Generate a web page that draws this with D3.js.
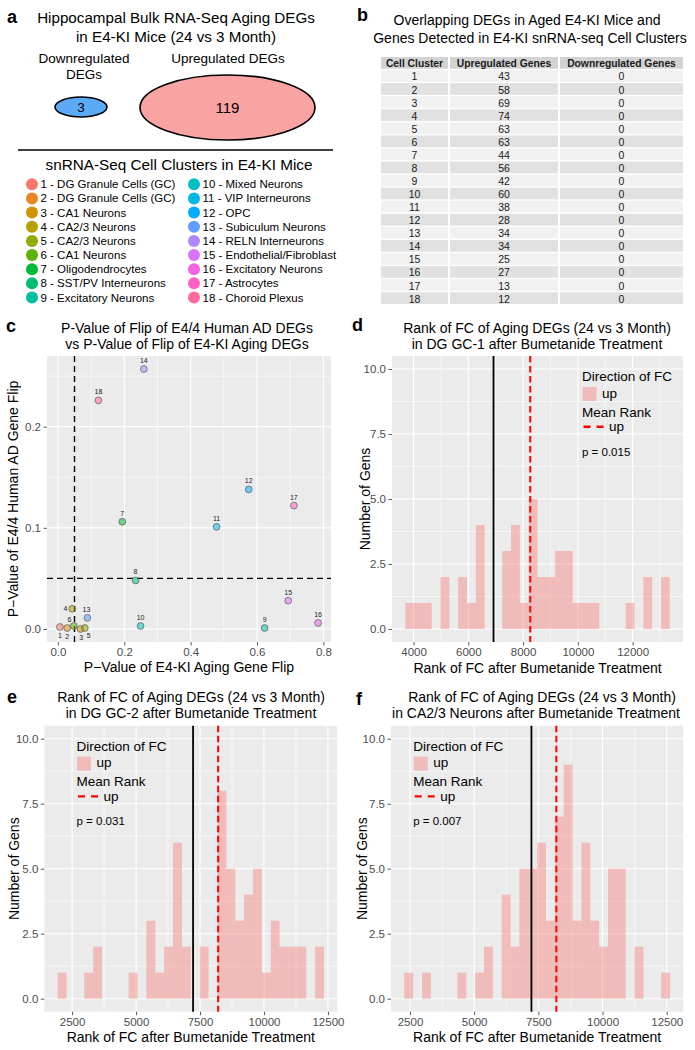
<!DOCTYPE html>
<html><head><meta charset="utf-8">
<script src="https://cdn.jsdelivr.net/npm/d3@7"></script>
<style>
body{margin:0;background:#fff}
svg{display:block}
text{font-family:"Liberation Sans",Arial,Helvetica,sans-serif}
</style>
</head><body>
<svg id="fig" width="695" height="1050"></svg>
<script>
// ---------------- DATA ----------------
const bulkCategories = ["Downregulated DEGs", "Upregulated DEGs"];
const bulkCounts = [3, 119];

const clusterIds = [1,2,3,4,5,6,7,8,9,10,11,12,13,14,15,16,17,18];
const clusterNames = ["DG Granule Cells (GC)","DG Granule Cells (GC)","CA1 Neurons","CA2/3 Neurons","CA2/3 Neurons","CA1 Neurons","Oligodendrocytes","SST/PV Interneurons","Excitatory Neurons","Mixed Neurons","VIP Interneurons","OPC","Subiculum Neurons","RELN Interneurons","Endothelial/Fibroblast","Excitatory Neurons","Astrocytes","Choroid Plexus"];

const tableHeaders = ["Cell Cluster", "Upregulated Genes", "Downregulated Genes"];
const upGenes   = [43,58,69,74,63,63,44,56,42,60,38,28,34,34,25,27,13,12];
const downGenes = [0,0,0,0,0,0,0,0,0,0,0,0,0,0,0,0,0,0];

// panel c: p-value of flip (x: E4-KI aging, y: E4/4 human AD), cluster order 1..18
const flipAging   = [0.006,0.028,0.068,0.043,0.081,0.048,0.194,0.234,0.623,0.249,0.478,0.575,0.089,0.259,0.694,0.784,0.711,0.122];
const flipHumanAD = [0.002,0.001,0.000,0.020,0.001,0.003,0.106,0.048,0.001,0.003,0.101,0.138,0.011,0.257,0.028,0.006,0.122,0.226];
const flipThreshold = 0.05;
const cXTicks = [0, 0.2, 0.4, 0.6, 0.8];
const cYTicks = [0, 0.1, 0.2];

// histograms: 30 bins each
const histYTicks = [0, 2.5, 5, 7.5, 10];
const histYMax = 10;

const binStartD = 3696, binWidthD = 322;
const countsD = [1,1,1,0,2,0,2,1,4,0,0,3,4,1,5,2,2,3,3,1,1,1,0,0,0,1,0,2,0,2];
const refRankD = 6920, meanRankD = 8262, pValueD = "p = 0.015";
const xTicksD = [4000, 6000, 8000, 10000, 12000];

const binStartE = 1935, binWidthE = 347;
const countsE = [1,0,0,1,2,0,0,0,1,0,3,1,2,6,2,0,2,0,8,5,3,4,5,1,3,2,2,2,0,2];
const refRankE = 7229, meanRankE = 8210, pValueE = "p = 0.031";
const xTicksE = [2500, 5000, 7500, 10000, 12500];

const binStartF = 2278, binWidthF = 345;
const countsF = [1,0,1,0,0,0,1,0,1,2,0,4,2,5,5,6,3,7,9,3,6,3,2,5,5,0,2,0,0,1];
const refRankF = 7230, meanRankF = 8201, pValueF = "p = 0.007";
const xTicksF = [2500, 5000, 7500, 10000, 12500];

// ---------------- HELPERS ----------------
function hclLuv(h, c, l) {
  const Xn = 95.047, Yn = 100, Zn = 108.883;
  const den = Xn + 15 * Yn + 3 * Zn;
  const un = 4 * Xn / den, vn = 9 * Yn / den;
  const r = h * Math.PI / 180, U = c * Math.cos(r), V = c * Math.sin(r);
  const Y = Yn * Math.pow((l + 16) / 116, 3);
  const u = U / (13 * l) + un, v = V / (13 * l) + vn;
  const X = 9 * Y * u / (4 * v), Z = Y * (12 - 3 * u - 20 * v) / (4 * v);
  const x = X / 100, y = Y / 100, z = Z / 100;
  const R = 3.240479 * x - 1.53715 * y - 0.498535 * z;
  const G = -0.969256 * x + 1.875992 * y + 0.041556 * z;
  const B = 0.055648 * x - 0.204043 * y + 1.057311 * z;
  const g = t => { t = t <= 0.0031308 ? 12.92 * t : 1.055 * Math.pow(t, 1 / 2.4) - 0.055; return Math.round(255 * Math.max(0, Math.min(1, t))); };
  return d3.rgb(g(R), g(G), g(B)).formatHex();
}
const clusterColor = d3.scaleOrdinal().domain(clusterIds)
  .range(clusterIds.map((d, i) => hclLuv(15 + 360 * i / clusterIds.length, 100, 65)));
const pink = hclLuv(15, 100, 65);

const svg = d3.select("#fig");
const BG = "#EBEBEB";

function txt(g, x, y, s, size, opts = {}) {
  return g.append("text").attr("x", x).attr("y", y).text(s)
    .attr("font-size", size)
    .attr("text-anchor", opts.anchor || "start")
    .attr("font-weight", opts.weight || "normal")
    .attr("fill", opts.fill || "#000");
}

function minorOf(major, domain) {
  const step = major[1] - major[0];
  const ext = [major[0] - step].concat(major, [major[major.length - 1] + step]);
  const out = [];
  for (let i = 0; i < ext.length - 1; i++) {
    const m = (ext[i] + ext[i + 1]) / 2;
    if (m >= domain[0] && m <= domain[1]) out.push(m);
  }
  return out;
}

function drawPanel(box, x, y, xt, yt, fx, fy) {
  const g = svg.append("g");
  g.append("rect").attr("x", box.x0).attr("y", box.y0)
    .attr("width", box.x1 - box.x0).attr("height", box.y1 - box.y0).attr("fill", BG);
  const xd = x.domain(), yd = y.domain();
  minorOf(xt, xd).forEach(v => g.append("line").attr("x1", x(v)).attr("x2", x(v)).attr("y1", box.y0).attr("y2", box.y1).attr("stroke", "#fff").attr("stroke-width", 0.55));
  minorOf(yt, yd).forEach(v => g.append("line").attr("y1", y(v)).attr("y2", y(v)).attr("x1", box.x0).attr("x2", box.x1).attr("stroke", "#fff").attr("stroke-width", 0.55));
  xt.forEach(v => g.append("line").attr("x1", x(v)).attr("x2", x(v)).attr("y1", box.y0).attr("y2", box.y1).attr("stroke", "#fff").attr("stroke-width", 1.1));
  yt.forEach(v => g.append("line").attr("y1", y(v)).attr("y2", y(v)).attr("x1", box.x0).attr("x2", box.x1).attr("stroke", "#fff").attr("stroke-width", 1.1));

  const ax = svg.append("g").attr("transform", `translate(0,${box.y1})`)
    .call(d3.axisBottom(x).tickValues(xt).tickSize(3.5).tickPadding(2.5).tickFormat(fx));
  const ay = svg.append("g").attr("transform", `translate(${box.x0},0)`)
    .call(d3.axisLeft(y).tickValues(yt).tickSize(3.5).tickPadding(2.5).tickFormat(fy));
  [ax, ay].forEach(a => {
    a.select(".domain").remove();
    a.selectAll(".tick line").attr("stroke", "#333").attr("stroke-width", 0.8);
    a.selectAll(".tick text").attr("fill", "#4D4D4D").attr("font-size", 11.5)
      .attr("font-family", '"Liberation Sans",Arial,Helvetica,sans-serif');
  });
  return g;
}

function yTitle(x, yc, s) {
  svg.append("text").attr("transform", `translate(${x},${yc}) rotate(-90)`)
    .attr("text-anchor", "middle").attr("dominant-baseline", "central")
    .attr("font-size", 14).text(s);
}

// ---------------- PANEL A ----------------
txt(svg, 7, 23, "a", 18, { weight: "bold" });
txt(svg, 176, 23, "Hippocampal Bulk RNA-Seq Aging DEGs", 15.2, { anchor: "middle" });
txt(svg, 176, 42, "in E4-KI Mice (24 vs 3 Month)", 15.2, { anchor: "middle" });
txt(svg, 84, 63, "Downregulated", 13.5, { anchor: "middle" });
txt(svg, 84, 79, "DEGs", 13.5, { anchor: "middle" });
txt(svg, 228, 63, bulkCategories[1], 13.5, { anchor: "middle" });

const ell = [
  { cx: 81, cy: 107, rx: 26, ry: 10, fill: "#5BAAF5" },
  { cx: 227.5, cy: 107.5, rx: 87.5, ry: 32.5, fill: "#F9A3A3" }
];
ell.forEach((e, i) => {
  svg.append("ellipse").attr("cx", e.cx).attr("cy", e.cy).attr("rx", e.rx).attr("ry", e.ry)
    .attr("fill", e.fill).attr("stroke", "#000").attr("stroke-width", 1.6);
  svg.append("text").attr("x", e.cx).attr("y", e.cy).attr("text-anchor", "middle")
    .attr("dominant-baseline", "central").attr("font-size", i ? 15 : 13.5).text(bulkCounts[i]);
});

svg.append("line").attr("x1", 18).attr("x2", 333).attr("y1", 150).attr("y2", 150)
  .attr("stroke", "#000").attr("stroke-width", 1.6);
txt(svg, 179, 170, "snRNA-Seq Cell Clusters in E4-KI Mice", 15.3, { anchor: "middle" });

clusterIds.forEach((id, i) => {
  const col = i < 9 ? 0 : 1, row = i % 9;
  const dx = col ? 194 : 32, yy = 184.3 + row * 14.15;
  svg.append("circle").attr("cx", dx).attr("cy", yy).attr("r", 6).attr("fill", clusterColor(id));
  svg.append("text").attr("x", dx + 8.5).attr("y", yy).attr("dominant-baseline", "central")
    .attr("font-size", 11.5).text(`${id} - ${clusterNames[i]}`);
});

// ---------------- PANEL B ----------------
txt(svg, 357, 21, "b", 18, { weight: "bold" });
txt(svg, 527, 25, "Overlapping DEGs in Aged E4-KI Mice and", 14, { anchor: "middle" });
txt(svg, 530, 43, "Genes Detected in E4-KI snRNA-seq Cell Clusters", 14, { anchor: "middle" });

const cols = [[381, 448], [450, 558], [560, 683]];
const tTop = 57, tPitch = 13;
const rowsY = d3.scaleBand().domain(d3.range(19)).range([tTop, tTop + 19 * tPitch]).paddingInner(0.1);
const tableRows = [tableHeaders].concat(clusterIds.map((id, i) => [id, upGenes[i], downGenes[i]]));
tableRows.forEach((r, ri) => {
  cols.forEach((c, ci) => {
    svg.append("rect").attr("x", c[0]).attr("y", rowsY(ri)).attr("width", c[1] - c[0]).attr("height", rowsY.bandwidth())
      .attr("fill", ri === 0 ? "#D3D3D3" : (ri % 2 ? "#F1F1F1" : "#E1E1E1"));
    svg.append("text").attr("x", (c[0] + c[1]) / 2).attr("y", rowsY(ri) + rowsY.bandwidth() / 2 + 0.5)
      .attr("text-anchor", "middle").attr("dominant-baseline", "central")
      .attr("font-size", ri === 0 ? 10.3 : 10.5).attr("font-weight", ri === 0 ? "bold" : "normal")
      .attr("fill", "#1a1a1a").text(r[ci]);
  });
});

// ---------------- PANEL C ----------------
txt(svg, 6, 332, "c", 18, { weight: "bold" });
txt(svg, 187, 333, "P-Value of Flip of E4/4 Human AD DEGs", 14, { anchor: "middle" });
txt(svg, 187, 348.5, "vs P-Value of Flip of E4-KI Aging DEGs", 14, { anchor: "middle" });
const boxC = { x0: 47, x1: 331, y0: 356, y1: 642 };
const exC = d3.extent(flipAging), eyC = d3.extent(flipHumanAD);
const pxC = (exC[1] - exC[0]) * 0.05, pyC = (eyC[1] - eyC[0]) * 0.05;
const xC = d3.scaleLinear().domain([exC[0] - pxC, exC[1] + pxC]).range([boxC.x0, boxC.x1]);
const yC = d3.scaleLinear().domain([eyC[0] - pyC, eyC[1] + pyC]).range([boxC.y1, boxC.y0]);
drawPanel(boxC, xC, yC, cXTicks, cYTicks, d3.format(".1f"), d3.format(".1f"));
svg.append("line").attr("x1", xC(flipThreshold)).attr("x2", xC(flipThreshold)).attr("y1", boxC.y0).attr("y2", boxC.y1)
  .attr("stroke", "#000").attr("stroke-width", 1.4).attr("stroke-dasharray", "6,4");
svg.append("line").attr("x1", boxC.x0).attr("x2", boxC.x1).attr("y1", yC(flipThreshold)).attr("y2", yC(flipThreshold))
  .attr("stroke", "#000").attr("stroke-width", 1.4).attr("stroke-dasharray", "6,4");
const labelNudge = { 1: [0, 9], 2: [0, 9], 3: [0.7, 8.7], 5: [4, 7.3], 6: [-4.3, -6], 4: [-6.7, 0], 13: [-1, -8] };
clusterIds.forEach((id, i) => {
  const px = xC(flipAging[i]), py = yC(flipHumanAD[i]);
  svg.append("circle").attr("cx", px).attr("cy", py).attr("r", 3.4)
    .attr("fill", clusterColor(id)).attr("fill-opacity", 0.55)
    .attr("stroke", "#5a5a5a").attr("stroke-width", 0.7);
  const n = labelNudge[id] || [0, -8.5];
  svg.append("text").attr("x", px + n[0]).attr("y", py + n[1]).attr("text-anchor", "middle")
    .attr("dominant-baseline", "central").attr("font-size", 7).attr("fill", "#222").text(id);
});
txt(svg, 189, 672, "P\u2212Value of E4-KI Aging Gene Flip", 14, { anchor: "middle" });
yTitle(13, 499, "P\u2212Value of E4/4 Human AD Gene Flip");

// ---------------- HISTOGRAMS ----------------
function histogram(cfg) {
  const { box, start, width, counts, ref, mean, xt, pText, legendX, title1, title2, titleX, letter, letterX, letterY, titleY, yTitleX } = cfg;
  const end = start + width * counts.length;
  const pad = (end - start) * 0.05;
  const x = d3.scaleLinear().domain([start - pad, end + pad]).range([box.x0, box.x1]);
  const y = d3.scaleLinear().domain([-histYMax * 0.05, histYMax * 1.05]).range([box.y1, box.y0]);
  drawPanel(box, x, y, xt, histYTicks, d3.format("d"), d3.format(".1f"));
  counts.forEach((c, i) => {
    if (!c) return;
    const a = start + i * width, b = a + width;
    svg.append("rect").attr("x", x(a)).attr("width", x(b) - x(a))
      .attr("y", y(c)).attr("height", y(0) - y(c))
      .attr("fill", pink).attr("fill-opacity", 0.4);
  });
  svg.append("line").attr("x1", x(ref)).attr("x2", x(ref)).attr("y1", box.y0).attr("y2", box.y1)
    .attr("stroke", "#000").attr("stroke-width", 1.8);
  svg.append("line").attr("x1", x(mean)).attr("x2", x(mean)).attr("y1", box.y0).attr("y2", box.y1)
    .attr("stroke", "#FF0000").attr("stroke-width", 2).attr("stroke-dasharray", "6.5,3.5");
  // legend
  const lx = box.x0 + legendX * (box.x1 - box.x0), t = box.y0;
  txt(svg, lx, t + 25, "Direction of FC", 13.5);
  svg.append("rect").attr("x", lx + 0.5).attr("y", t + 31).attr("width", 14).attr("height", 14)
    .attr("fill", pink).attr("fill-opacity", 0.4);
  txt(svg, lx + 20, t + 41.5, "up", 13.5);
  txt(svg, lx, t + 60.7, "Mean Rank", 13.5);
  svg.append("line").attr("x1", lx + 1.5).attr("x2", lx + 22).attr("y1", t + 70.7).attr("y2", t + 70.7)
    .attr("stroke", "#FF0000").attr("stroke-width", 2.4).attr("stroke-dasharray", "7,6");
  txt(svg, lx + 27, t + 75, "up", 13.5);
  txt(svg, lx, t + 99.5, pText, 11.5);
  // titles
  txt(svg, letterX, letterY, letter, 18, { weight: "bold" });
  txt(svg, titleX[0], titleY, title1, 14, { anchor: "middle" });
  txt(svg, titleX[1], titleY + 15.5, title2, 14, { anchor: "middle" });
  txt(svg, (box.x0 + box.x1) / 2, box.y1 + 30.5, "Rank of FC after Bumetanide Treatment", 14, { anchor: "middle" });
  yTitle(yTitleX, (box.y0 + box.y1) / 2, "Number of Gens");
}

histogram({
  box: { x0: 392, x1: 683, y0: 356, y1: 642 }, start: binStartD, width: binWidthD, counts: countsD,
  ref: refRankD, mean: meanRankD, xt: xTicksD, pText: pValueD, legendX: 0.653,
  title1: "Rank of FC of Aging DEGs (24 vs 3 Month)", title2: "in DG GC-1 after Bumetanide Treatment",
  titleX: [537, 537], titleY: 333, letter: "d", letterX: 352, letterY: 331, yTitleX: 365
});
histogram({
  box: { x0: 44.3, x1: 337.3, y0: 725.7, y1: 1011.7 }, start: binStartE, width: binWidthE, counts: countsE,
  ref: refRankE, mean: meanRankE, xt: xTicksE, pText: pValueE, legendX: 0.11,
  title1: "Rank of FC of Aging DEGs (24 vs 3 Month)", title2: "in DG GC-2 after Bumetanide Treatment",
  titleX: [191, 191], titleY: 702, letter: "e", letterX: 7, letterY: 703, yTitleX: 14
});
histogram({
  box: { x0: 391, x1: 683.3, y0: 725.7, y1: 1011.7 }, start: binStartF, width: binWidthF, counts: countsF,
  ref: refRankF, mean: meanRankF, xt: xTicksF, pText: pValueF, legendX: 0.076,
  title1: "Rank of FC of Aging DEGs (24 vs 3 Month)", title2: "in CA2/3 Neurons after Bumetanide Treatment",
  titleX: [542, 536], titleY: 702, letter: "f", letterX: 356, letterY: 705, yTitleX: 362
});
</script>
</body></html>
